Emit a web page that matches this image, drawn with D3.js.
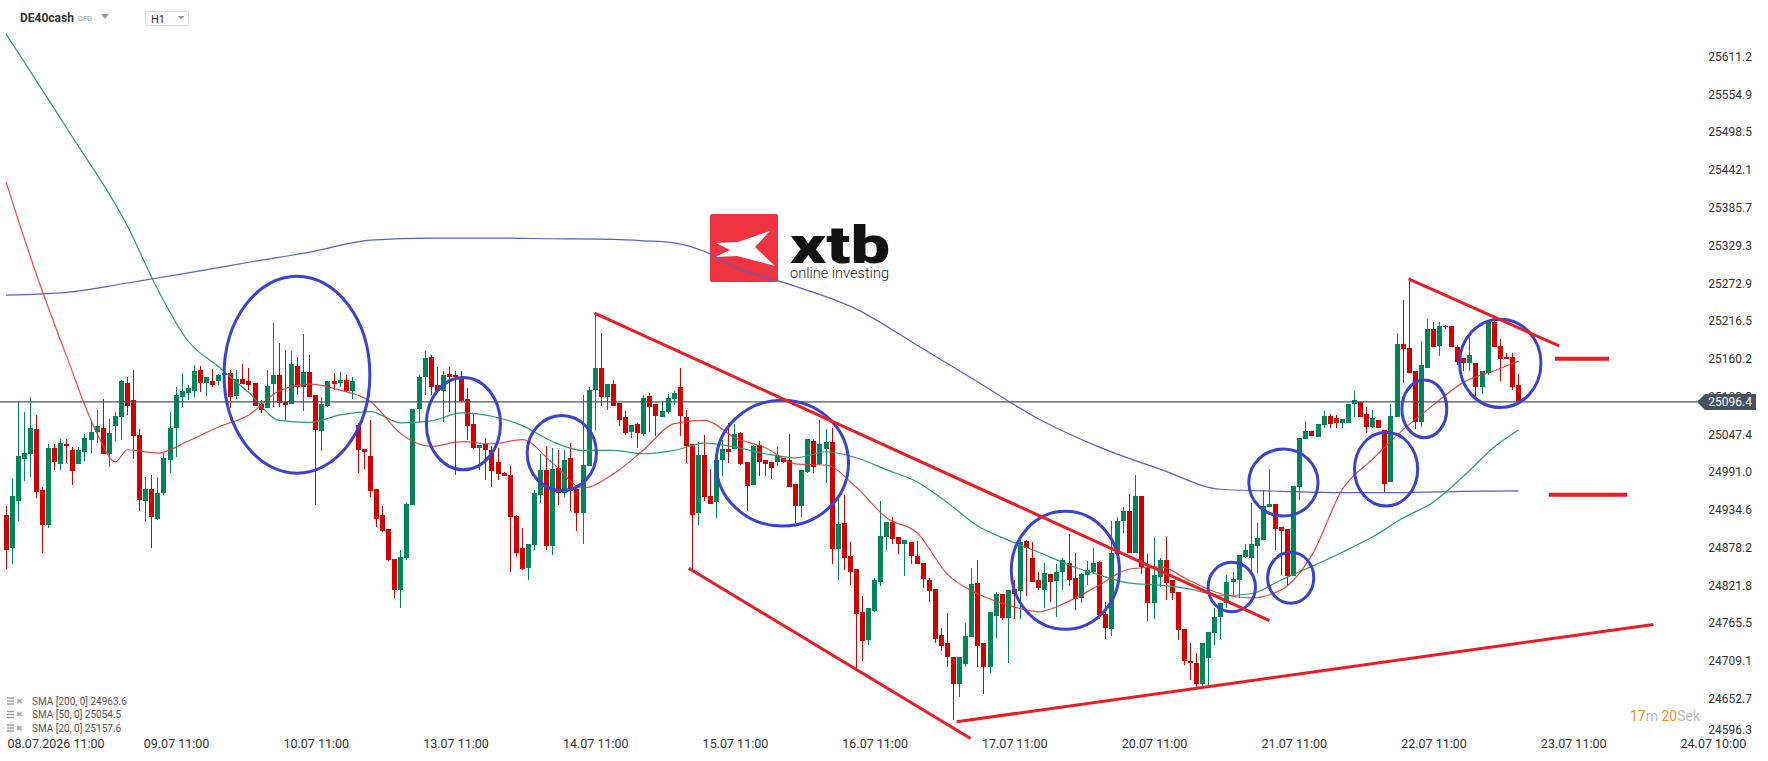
<!DOCTYPE html>
<html>
<head>
<meta charset="utf-8">
<script src="https://cdn.jsdelivr.net/npm/d3@7"></script>
<style>
  html, body { margin: 0; padding: 0; background: #fff; }
  svg { display: block; font-family: Roboto, "Noto Sans", sans-serif; }
</style>
</head>
<body>
<svg id="chart" width="1768" height="761"></svg>
<script>
// DE40cash H1 candles, 08.07 - 23.07
const opens = [24927,24878,24949,25011,25019,25056,24965,24912,25027,25004,25034,25025,25004,25022,25039,25051,25058,25018,25060,25074,25124,25099,25047,24948,24967,24922,24960,25010,25057,25104,25110,25113,25144,25125,25128,25128,25137,25140,25105,25130,25127,25125,25094,25087,25123,25137,25097,25094,25150,25119,25141,25107,25053,25090,25128,25125,25129,25113,25062,25026,25016,24966,24928,24907,24862,24816,24863,24943,25086,25133,25163,25122,25113,25138,25137,25132,25101,25063,25027,25034,25024,25007,24991,24987,24926,24878,24849,24883,24957,24995,24882,24998,24961,25013,24966,24931,25001,25114,25147,25104,25123,25095,25074,25052,25064,25049,25105,25093,25074,25081,25101,25119,25074,25034,24930,25017,24956,24947,25009,25026,25026,25050,25007,24972,25032,25010,25007,25006,25013,25009,24974,24941,24992,25038,25004,25026,25037,24877,24915,24866,24847,24783,24741,24784,24827,24894,24917,24895,24885,24888,24867,24856,24830,24817,24748,24736,24716,24676,24705,24746,24826,24736,24701,24777,24809,24774,24817,24814,24889,24864,24831,24816,24840,24829,24843,24856,24833,24803,24838,24842,24857,24780,24758,24870,24919,24934,24871,24956,24850,24796,24835,24861,24830,24813,24757,24710,24707,24676,24714,24752,24776,24796,24827,24830,24865,24864,24881,24891,24939,24944,24909,24907,24836,24970,25041,25053,25044,25062,25076,25073,25065,25065,25093,25096,25079,25059,25069,25055,24977,25074,25183,25177,25143,25066,25147,25205,25180,25210,25210,25179,25162,25155,25154,25119,25139,25215,25180,25163,25163,25122];
const highs = [24941,24981,25096,25081,25104,25077,24969,25034,25034,25041,25041,25029,25029,25048,25066,25084,25101,25071,25081,25129,25134,25144,25056,24984,24987,24984,25020,25081,25119,25139,25122,25152,25150,25134,25146,25138,25141,25144,25144,25153,25147,25125,25099,25144,25214,25184,25174,25172,25163,25198,25166,25107,25104,25128,25140,25141,25137,25134,25065,25026,25070,24966,24941,24907,24862,24875,24945,25086,25137,25173,25166,25149,25142,25149,25142,25142,25117,25079,25032,25042,25030,25027,24992,25001,24928,24908,24885,24965,25019,25031,25027,25025,25025,25035,24966,25107,25118,25226,25199,25123,25129,25095,25083,25062,25065,25107,25109,25093,25097,25108,25112,25147,25084,25034,25037,25047,24997,25012,25040,25065,25064,25052,25007,25032,25038,25010,25007,25029,25013,25049,24974,24995,25041,25041,25069,25056,25057,24955,24957,24888,24847,24807,24789,24833,24948,24917,24925,24895,24890,24888,24889,24856,24833,24817,24759,24782,24716,24716,24766,24848,24860,24736,24783,24813,24809,24815,24830,24890,24890,24888,24843,24856,24840,24855,24863,24899,24871,24841,24859,24879,24859,24798,24918,24925,24940,24959,24987,24956,24869,24893,24863,24895,24830,24813,24757,24736,24721,24736,24753,24788,24796,24838,24843,24868,24885,24945,24915,24965,24997,24944,24909,24907,24971,25042,25068,25053,25064,25083,25078,25077,25071,25093,25112,25096,25089,25085,25069,25055,25094,25199,25249,25279,25143,25188,25220,25216,25216,25211,25210,25181,25162,25196,25154,25143,25215,25221,25190,25169,25169,25138];
const lows = [24847,24855,24918,24978,24984,24953,24871,24908,24995,24995,25005,24972,25004,25008,25020,25035,25018,24999,25038,25039,25077,25011,24933,24917,24878,24920,24958,24990,25014,25089,25099,25104,25111,25105,25119,25122,25135,25087,25101,25123,25114,25090,25080,25087,25089,25089,25069,25095,25107,25083,25104,24943,25023,25089,25114,25119,25111,25101,24990,24996,24954,24910,24902,24859,24804,24789,24860,24942,25065,25107,25107,25112,25067,25082,24987,25097,25040,25026,24995,24980,24970,24980,24986,24843,24865,24846,24831,24876,24945,24876,24868,24943,24955,24934,24904,24885,25000,25055,25090,25084,25090,25060,25047,25042,25028,25046,25052,25046,25074,25078,25092,25045,25005,24846,24913,24948,24944,24923,24986,25005,25026,25002,24933,24972,24986,24986,24982,25001,25005,24970,24916,24924,24990,24990,25002,24976,24855,24831,24845,24823,24699,24709,24734,24783,24822,24875,24884,24869,24836,24855,24854,24818,24798,24737,24725,24700,24621,24656,24701,24746,24701,24661,24691,24744,24771,24706,24773,24773,24806,24828,24816,24788,24797,24775,24816,24821,24786,24796,24823,24841,24772,24742,24747,24868,24900,24871,24871,24840,24770,24773,24820,24800,24800,24741,24704,24681,24671,24671,24671,24733,24743,24788,24808,24803,24864,24843,24841,24891,24939,24875,24838,24823,24836,24950,25041,25046,25044,25057,25057,25057,25057,25065,25074,25074,25050,25057,25057,24962,24977,25074,25124,25140,25056,25059,25147,25178,25165,25206,25178,25151,25142,25142,25105,25108,25137,25179,25127,25160,25114,25096];
const closes = [24875,24956,25016,25020,25057,24962,24912,25028,25006,25035,25030,24994,25025,25043,25052,25060,25018,25050,25075,25127,25090,25045,24950,24967,24925,24961,25013,25058,25107,25113,25117,25143,25124,25133,25121,25137,25139,25104,25130,25123,25122,25091,25085,25120,25137,25095,25092,25153,25119,25141,25104,25055,25093,25128,25123,25129,25113,25128,25024,25021,24964,24922,24903,24860,24816,24865,24944,25086,25134,25162,25119,25113,25137,25133,25133,25098,25061,25027,25032,25024,24994,24989,24986,24924,24871,24847,24884,24961,24995,24881,24996,24961,25010,24964,24930,25002,25114,25147,25104,25123,25090,25070,25050,25062,25050,25102,25089,25076,25083,25102,25110,25076,25030,24927,25017,24955,24944,25010,25026,25022,25049,25004,24971,25031,25007,25004,24998,25016,25006,24970,24941,24995,25041,24999,25034,25036,24877,24914,24864,24842,24780,24740,24789,24831,24896,24917,24892,24885,24890,24867,24854,24832,24814,24743,24732,24715,24676,24715,24747,24824,24732,24701,24783,24809,24774,24815,24810,24888,24878,24828,24819,24841,24828,24843,24861,24830,24802,24840,24845,24856,24778,24759,24871,24919,24934,24871,24956,24850,24796,24838,24861,24826,24811,24756,24709,24707,24676,24736,24753,24776,24796,24827,24832,24868,24876,24885,24893,24941,24944,24906,24904,24836,24971,25042,25053,25046,25064,25076,25063,25065,25071,25093,25099,25074,25059,25072,25057,24974,25076,25183,25175,25140,25067,25151,25205,25178,25210,25208,25178,25156,25155,25166,25119,25143,25215,25179,25160,25160,25119,25096.4];

// moving averages (candle index -> value)
const sma20Idx = [0,5,10,15,18,20,25,30,35,40,45,50,55,60,65,70,75,80,85,90,95,100,105,110,115,120,125,130,135,140,145,150,155,160,165,170,175,180,185,190,195,200,205,210,215,220,225,230,235,240,245,249];
const sma20 = [25425,25287,25164,25049,25007,25025,25020,25038,25059,25077,25113,25123,25114,25097,25049,25030,25037,25034,25040,25005,24968,24989,25025,25064,25069,25043,25028,25004,25002,24969,24923,24901,24839,24810,24793,24783,24799,24823,24847,24850,24829,24810,24804,24816,24868,24966,25011,25055,25092,25126,25143,25157.6];
const sma50Idx = [0,10,20,25,30,35,40,45,50,55,60,65,70,75,80,85,90,95,100,105,110,115,120,125,130,135,140,145,150,155,160,165,170,175,180,185,190,195,200,205,210,215,220,225,230,235,240,245,249];
const sma50 = [25646,25505,25359,25264,25187,25149,25110,25069,25066,25077,25082,25065,25068,25080,25075,25061,25037,25024,25024,25019,25024,25035,25029,25019,25013,25022,25013,24995,24977,24946,24911,24890,24872,24853,24838,24826,24823,24817,24807,24810,24831,24851,24872,24895,24923,24947,24986,25029,25054.5];
const sma200Idx = [0,10,20,30,40,50,60,70,80,90,100,105,110,115,120,130,140,150,160,170,180,190,200,210,220,230,240,249];
const sma200 = [25256,25260,25274,25289,25305,25320,25338,25341,25341,25340,25339,25337,25334,25321,25298,25269,25235,25181,25126,25071,25029,24996,24966,24963,24961,24961,24963,24963.6];

const legendNames = ["SMA [200, 0]", "SMA [50, 0]", "SMA [20, 0]"];
const legendValues = ["24963.6", "25054.5", "25157.6"];

const dateTicks = [5, 28, 51, 74, 97, 120, 143, 166, 189, 212, 235, 258, 281];
const dateLabels = ["08.07.2026 11:00", "09.07 11:00", "10.07 11:00", "13.07 11:00", "14.07 11:00", "15.07 11:00", "16.07 11:00", "17.07 11:00", "20.07 11:00", "21.07 11:00", "22.07 11:00", "23.07 11:00", "24.07 10:00"];
const priceTicks = [25611.2, 25554.9, 25498.5, 25442.1, 25385.7, 25329.3, 25272.9, 25216.5, 25160.2, 25103.8, 25047.4, 24991.0, 24934.6, 24878.2, 24821.8, 24765.5, 24709.1, 24652.7, 24596.3];
const lastPrice = 25096.4;

// analyst drawings (in candle index / price units)
const circleIdx = [47.9, 75.3, 91.5, 127.8, 174.4, 201.8, 211.5, 210.3, 227.2, 233.5, 246.0];
const circlePrice = [25137, 25064, 25020, 25005, 24845, 24820, 24834, 24976, 24996, 25086, 25154];
const circleIdxR = [12.0, 6.1, 5.7, 10.9, 8.9, 3.9, 3.8, 5.7, 5.2, 3.7, 6.7];
const circlePriceR = [147, 69, 56, 94, 88, 37, 38, 50, 55, 43, 66];

const trendFromIdx = [96.9, 112.4, 156.5, 230.9];
const trendFromPrice = [25229, 24848, 24619, 25280];
const trendToIdx = [208.0, 158.8, 271.2, 255.7];
const trendToPrice = [24770, 24594, 24764, 25180];

const levelPrice = [25161, 24958];
const levelFromIdx = [255.0, 254.0];
const levelToIdx = [263.9, 266.9];

const W = 1768, H = 761;
const GREEN = "#00845a", RED = "#d40000";

const svg = d3.select("#chart");

const x = d3.scaleLinear().domain([0, 249]).range([6, 1518.5]);
const y = d3.scaleLinear().domain([24560.3, 25696.5]).range([H, 0]);

const candles = closes.map((c, i) => ({
  i,
  o: opens[i],
  c,
  h: Math.max(highs[i], opens[i], c),
  l: Math.min(lows[i], opens[i], c)
}));

// xtb watermark
const logo = svg.append("g").attr("transform", "translate(710,214)");
logo.append("rect").attr("width", 68).attr("height", 68).attr("rx", 2).attr("fill", "#ef3340");
logo.append("path")
  .attr("d", "M6,29 L28,28 L60,17 L45,33 L65,52 L27,42 L5,43 L20,36 Z")
  .attr("fill", "#fff");
logo.append("text")
  .attr("x", 80).attr("y", 49)
  .attr("font-size", 46).attr("font-weight", 900)
  .attr("transform", "translate(80,49) scale(1,1.12) translate(-80,-49)")
  .attr("textLength", 100).attr("lengthAdjust", "spacingAndGlyphs")
  .attr("fill", "#111").text("xtb");
logo.append("text")
  .attr("x", 80).attr("y", 64)
  .attr("font-size", 14).attr("font-weight", 300)
  .attr("textLength", 99).attr("lengthAdjust", "spacingAndGlyphs")
  .attr("fill", "#222").text("online investing");

// moving averages
const smaLine = d3.line().x(d => x(d[0])).y(d => y(d[1])).curve(d3.curveMonotoneX);
svg.append("path").datum(sma200Idx.map((d, k) => [d, sma200[k]]))
  .attr("fill", "none").attr("stroke", "#5a60c2").attr("stroke-width", 1.2).attr("d", smaLine);

// candles
const cg = svg.append("g").attr("shape-rendering", "crispEdges");
cg.selectAll("rect.wick").data(candles).join("rect")
  .attr("class", "wick")
  .attr("x", d => Math.round(x(d.i) - 2.5) + 2)
  .attr("width", 1)
  .attr("y", d => y(d.h))
  .attr("height", d => Math.max(1, y(d.l) - y(d.h)))
  .attr("fill", d => d.c >= d.o ? GREEN : RED);
cg.selectAll("rect.body").data(candles).join("rect")
  .attr("class", "body")
  .attr("x", d => Math.round(x(d.i) - 2.5))
  .attr("width", 5)
  .attr("y", d => y(Math.max(d.o, d.c)))
  .attr("height", d => Math.max(1.5, Math.abs(y(d.o) - y(d.c))))
  .attr("fill", d => d.c >= d.o ? GREEN : RED);

svg.append("path").datum(sma50Idx.map((d, k) => [d, sma50[k]]))
  .attr("fill", "none").attr("stroke", "#2c9c74").attr("stroke-width", 1.2).attr("d", smaLine);
svg.append("path").datum(sma20Idx.map((d, k) => [d, sma20[k]]))
  .attr("fill", "none").attr("stroke", "#e03a32").attr("stroke-opacity", 0.9).attr("stroke-width", 1.2).attr("d", smaLine);

// last price line
const yLast = y(lastPrice);
svg.append("line")
  .attr("x1", 0).attr("x2", 1697).attr("y1", yLast).attr("y2", yLast)
  .attr("stroke", "#46535e").attr("stroke-width", 1.3);

// drawings
const dg = svg.append("g");
dg.selectAll("ellipse").data(circleIdx).join("ellipse")
  .attr("cx", (d, k) => x(d))
  .attr("cy", (d, k) => y(circlePrice[k]))
  .attr("rx", (d, k) => x(d + circleIdxR[k]) - x(d))
  .attr("ry", (d, k) => y(circlePrice[k] - circlePriceR[k]) - y(circlePrice[k]))
  .attr("fill", "none").attr("stroke", "#3b43cc").attr("stroke-width", 3);
dg.selectAll("line.trend").data(trendFromIdx).join("line")
  .attr("class", "trend")
  .attr("x1", d => x(d)).attr("y1", (d, k) => y(trendFromPrice[k]))
  .attr("x2", (d, k) => x(trendToIdx[k])).attr("y2", (d, k) => y(trendToPrice[k]))
  .attr("stroke", "#ec1c24").attr("stroke-width", 3);
dg.selectAll("line.level").data(levelPrice).join("line")
  .attr("class", "level")
  .attr("x1", (d, k) => x(levelFromIdx[k])).attr("x2", (d, k) => x(levelToIdx[k]))
  .attr("y1", d => y(d)).attr("y2", d => y(d))
  .attr("stroke", "#ec1c24").attr("stroke-width", 4);

// price axis
const yAxis = svg.append("g")
  .attr("transform", "translate(1752,0)")
  .call(d3.axisLeft(y).tickValues(priceTicks).tickFormat(d3.format(".1f")).tickSize(0).tickPadding(0));
yAxis.select(".domain").remove();
yAxis.selectAll(".tick")
  .attr("transform", d => `translate(0,${Math.min(y(d), 730)})`);
yAxis.selectAll("text").attr("font-size", 12).attr("fill", "#333").attr("font-family", "Roboto, sans-serif");

// last price tag (covers the tick label right under it, as in the platform)
svg.append("path")
  .attr("d", `M1697,${yLast} L1705,${yLast - 8} L1756,${yLast - 8} L1756,${yLast + 8} L1705,${yLast + 8} Z`)
  .attr("fill", "#46535e");
svg.append("text")
  .attr("x", 1752).attr("y", yLast).attr("dy", "0.35em")
  .attr("text-anchor", "end").attr("font-size", 12).attr("fill", "#fff")
  .text(lastPrice.toFixed(1));

// date axis
const xAxis = svg.append("g")
  .attr("transform", "translate(0,739)")
  .call(d3.axisBottom(x).tickValues(dateTicks).tickFormat((d, k) => dateLabels[k]).tickSize(0).tickPadding(0));
xAxis.select(".domain").remove();
xAxis.selectAll("text").attr("font-size", 12.5).attr("fill", "#333").attr("font-family", "Roboto, sans-serif");
xAxis.select(".tick text").attr("text-anchor", "start").attr("x", 7 - x(dateTicks[0]));

// countdown
const cd = svg.append("text").attr("x", 1630).attr("y", 716).attr("dy", "0.35em").attr("font-size", 14);
cd.append("tspan").attr("fill", "#f7931e").text("17");
cd.append("tspan").attr("fill", "#bbb").text("m ");
cd.append("tspan").attr("fill", "#f7931e").text("20");
cd.append("tspan").attr("fill", "#bbb").text("Sek");

// indicator legend
const lg = svg.append("g");
legendNames.forEach((name, k) => {
  const yy = 701 + k * 13.5;
  const row = lg.append("g").attr("transform", `translate(7,${yy})`);
  [-3, 0, 3].forEach(o => row.append("rect").attr("x", 0).attr("y", o - 0.7).attr("width", 7).attr("height", 1.4).attr("fill", "#999"));
  row.append("text").attr("x", 9).attr("y", 0).attr("dy", "0.35em").attr("font-size", 8).attr("fill", "#aaa").text("\u2716");
  row.append("text").attr("x", 25).attr("y", 0).attr("dy", "0.35em").attr("font-size", 10).attr("fill", "#555")
    .text(`${name} ${legendValues[k]}`);
});

// header
const hd = svg.append("g");
hd.append("text").attr("x", 20).attr("y", 18).attr("dy", "0.35em")
  .attr("font-size", 12).attr("font-weight", 700).attr("fill", "#333").text("DE40cash");
hd.append("text").attr("x", 78).attr("y", 18).attr("dy", "0.35em")
  .attr("font-size", 7.5).attr("fill", "#999").text("CFD");
hd.append("path").attr("d", "M101,14 L109,14 L105,19 Z").attr("fill", "#999");
hd.append("rect").attr("x", 145.5).attr("y", 11.5).attr("width", 43).attr("height", 14).attr("rx", 1.5)
  .attr("fill", "#fff").attr("stroke", "#ddd");
hd.append("text").attr("x", 151).attr("y", 19).attr("dy", "0.35em")
  .attr("font-size", 11).attr("fill", "#333").text("H1");
hd.append("path").attr("d", "M177.5,16 L184.5,16 L181,19.5 Z").attr("fill", "#999");
</script>
</body>
</html>
